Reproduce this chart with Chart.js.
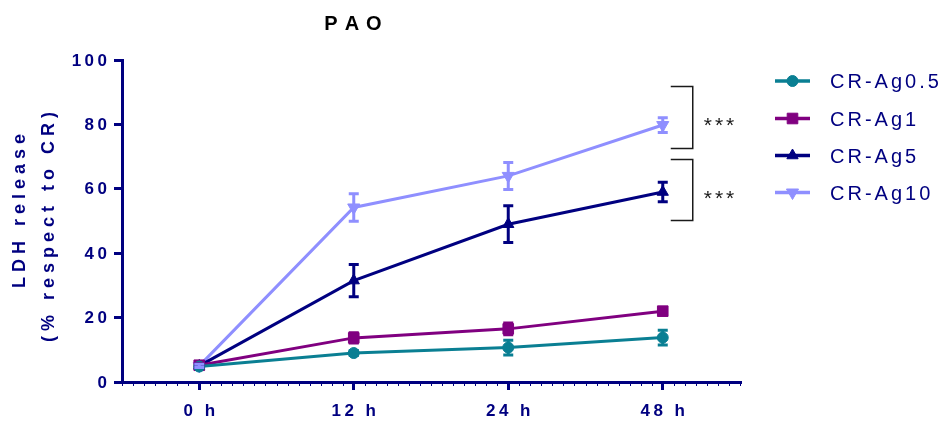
<!DOCTYPE html>
<html>
<head>
<meta charset="utf-8">
<script src="https://cdn.jsdelivr.net/npm/chart.js@4/dist/chart.umd.min.js"></script>
<style>
  html, body { margin: 0; padding: 0; background: #ffffff; }
  #wrap { width: 946px; height: 421px; }
</style>
</head>
<body>
<div id="wrap"><canvas id="c" width="946" height="421"></canvas></div>
<script>
// LDH release over time for each CR-Ag formulation (mean ± error)
const categories = ['0 h', '12 h', '24 h', '48 h'];
const seriesNames = ['CR-Ag0.5', 'CR-Ag1', 'CR-Ag5', 'CR-Ag10'];

const ag05Values = [4.8, 9.0, 10.7, 13.8];
const ag05Errors = [0.5, 0.8, 2.3, 2.3];
const ag1Values  = [5.2, 13.7, 16.5, 22.0];
const ag1Errors  = [0.5, 1.6, 1.8, 0.8];
const ag5Values  = [5.0, 31.5, 49.0, 59.0];
const ag5Errors  = [0.5, 5.0, 5.7, 3.0];
const ag10Values = [5.0, 54.2, 64.0, 79.8];
const ag10Errors = [0.5, 4.3, 4.2, 2.3];

const yTickValues = [0, 20, 40, 60, 80, 100];

// significance brackets at 48 h: [upper, lower] in axis units
const bracketSpans = [[91.9, 72.8], [69.3, 50.3]];
const bracketLabels = ['***', '***'];

const NAVY = '#000080';
const FONT = '"Liberation Sans", Arial, sans-serif';

const seriesStyles = [
  { color: '#0A7F93', pointStyle: 'circle',   radius: 5.5, rotation: 0 },
  { color: '#800080', pointStyle: 'rect',     radius: 7.5, rotation: 0 },
  { color: '#000080', pointStyle: 'triangle', radius: 6.5, rotation: 0 },
  { color: '#8F8FFF', pointStyle: 'triangle', radius: 7,   rotation: 180 }
];

const valueSets = [ag05Values, ag1Values, ag5Values, ag10Values];
const errorSets = [ag05Errors, ag1Errors, ag5Errors, ag10Errors];

const datasets = seriesNames.map((name, i) => ({
  label: name,
  data: valueSets[i],
  errors: errorSets[i],
  borderColor: seriesStyles[i].color,
  backgroundColor: seriesStyles[i].color,
  pointBackgroundColor: seriesStyles[i].color,
  pointBorderColor: seriesStyles[i].color,
  pointStyle: seriesStyles[i].pointStyle,
  pointRadius: seriesStyles[i].radius,
  pointRotation: seriesStyles[i].rotation,
  pointBorderWidth: 1,
  borderWidth: 3,
  tension: 0,
  fill: false,
  clip: false
}));

// draw text with extra spacing between characters
function spacedWidth(ctx, text, spacing) {
  let w = 0;
  for (const ch of text) w += ctx.measureText(ch).width + spacing;
  return w - spacing;
}
function drawSpaced(ctx, text, x, y, spacing, align) {
  const w = spacedWidth(ctx, text, spacing);
  let cx = x;
  if (align === 'center') cx = x - w / 2;
  else if (align === 'right') cx = x - w;
  const saved = ctx.textAlign;
  ctx.textAlign = 'left';
  for (const ch of text) {
    ctx.fillText(ch, cx, y);
    cx += ctx.measureText(ch).width + spacing;
  }
  ctx.textAlign = saved;
}

const errorBarPlugin = {
  id: 'errorBars',
  afterDatasetsDraw(chart) {
    const ctx = chart.ctx;
    const ys = chart.scales.y;
    chart.data.datasets.forEach((ds, di) => {
      const meta = chart.getDatasetMeta(di);
      ctx.save();
      ctx.strokeStyle = ds.borderColor;
      ctx.lineWidth = 3;
      meta.data.forEach((pt, j) => {
        const v = ds.data[j], e = ds.errors[j];
        if (!e) return;
        const top = ys.getPixelForValue(v + e);
        const bot = ys.getPixelForValue(v - e);
        const x = pt.x;
        ctx.beginPath();
        ctx.moveTo(x, top); ctx.lineTo(x, bot);
        ctx.moveTo(x - 5, top); ctx.lineTo(x + 5, top);
        ctx.moveTo(x - 5, bot); ctx.lineTo(x + 5, bot);
        ctx.stroke();
      });
      ctx.restore();
    });
  }
};

const decorPlugin = {
  id: 'decor',
  afterDraw(chart) {
    const ctx = chart.ctx;
    const xs = chart.scales.x, ys = chart.scales.y;
    const area = chart.chartArea;
    ctx.save();

    // minor ticks under the x axis
    ctx.strokeStyle = NAVY;
    ctx.lineWidth = 1;
    const perCat = 14;
    const nMinor = categories.length * perCat;
    const step = (area.right - area.left) / nMinor;
    ctx.beginPath();
    for (let k = 0; k <= nMinor; k++) {
      const x = Math.round(area.left + k * step) + 0.5;
      ctx.moveTo(x, area.bottom);
      ctx.lineTo(x, area.bottom + 4);
    }
    ctx.stroke();

    // y tick labels
    ctx.fillStyle = NAVY;
    ctx.font = 'bold 17px ' + FONT;
    ctx.textBaseline = 'middle';
    yTickValues.forEach(v => {
      drawSpaced(ctx, String(v), area.left - 15, ys.getPixelForValue(v) + 1, 3.5, 'right');
    });

    // x tick labels
    categories.forEach((c, i) => {
      drawSpaced(ctx, c, xs.getPixelForValue(i), area.bottom + 29, 3.5, 'center');
    });

    // y axis title (two lines)
    ctx.font = 'bold 18px ' + FONT;
    ctx.save();
    ctx.translate(20, 211);
    ctx.rotate(-Math.PI / 2);
    drawSpaced(ctx, 'LDH release', 0, 0, 5, 'center');
    ctx.restore();
    ctx.save();
    ctx.translate(49, 227);
    ctx.rotate(-Math.PI / 2);
    drawSpaced(ctx, '(% respect to CR)', 0, 0, 5, 'center');
    ctx.restore();

    // chart title
    ctx.fillStyle = '#000000';
    ctx.font = 'bold 20px ' + FONT;
    drawSpaced(ctx, 'PAO', 353, 24, 7, 'center');

    // significance brackets beside the last time point
    const xLast = xs.getPixelForValue(categories.length - 1);
    ctx.strokeStyle = '#1a1a1a';
    ctx.lineWidth = 1.5;
    ctx.fillStyle = '#1a1a1a';
    ctx.font = '21px ' + FONT;
    bracketSpans.forEach((span, i) => {
      const yTop = Math.round(ys.getPixelForValue(span[0])) + 0.5;
      const yBot = Math.round(ys.getPixelForValue(span[1])) + 0.5;
      const x0 = xLast + 8, x1 = xLast + 30;
      ctx.beginPath();
      ctx.moveTo(x0, yTop); ctx.lineTo(x1, yTop);
      ctx.lineTo(x1, yBot); ctx.lineTo(x0, yBot);
      ctx.stroke();
      ctx.textBaseline = 'middle';
      drawSpaced(ctx, bracketLabels[i], x1 + 11, (yTop + yBot) / 2 + 9, 3, 'left');
    });

    // legend
    const legendX0 = 775, legendX1 = 810, textX = 830;
    const rowY = [81, 118.5, 155.5, 192.5];
    chart.data.datasets.forEach((ds, i) => {
      const y = rowY[i];
      ctx.strokeStyle = ds.borderColor;
      ctx.lineWidth = 3.5;
      ctx.beginPath();
      ctx.moveTo(legendX0, y); ctx.lineTo(legendX1, y);
      ctx.stroke();
      ctx.fillStyle = ds.borderColor;
      ctx.lineWidth = 1;
      Chart.helpers.drawPoint(ctx, {
        pointStyle: ds.pointStyle,
        radius: ds.pointRadius,
        rotation: ds.pointRotation,
        borderWidth: 1
      }, (legendX0 + legendX1) / 2, y);
      ctx.fillStyle = NAVY;
      ctx.font = '20px ' + FONT;
      ctx.textBaseline = 'middle';
      drawSpaced(ctx, ds.label, textX, y + 1.5, 3, 'left');
    });

    ctx.restore();
  }
};

new Chart(document.getElementById('c'), {
  type: 'line',
  data: { labels: categories, datasets: datasets },
  options: {
    responsive: false,
    devicePixelRatio: 1,
    animation: false,
    layout: { padding: { top: 60, right: 206, left: 0, bottom: 0 } },
    plugins: {
      legend: { display: false },
      title: { display: false },
      tooltip: { enabled: false }
    },
    scales: {
      x: {
        type: 'category',
        offset: true,
        grid: {
          offset: false,
          drawOnChartArea: false,
          drawTicks: true,
          tickLength: 8,
          color: NAVY,
          lineWidth: 3
        },
        border: { color: NAVY, width: 3 },
        ticks: { display: false },
        afterFit(scale) { scale.height = 39; }
      },
      y: {
        min: 0,
        max: 100,
        afterBuildTicks(scale) { scale.ticks = yTickValues.map(v => ({ value: v })); },
        grid: {
          drawOnChartArea: false,
          drawTicks: true,
          tickLength: 8,
          color: NAVY,
          lineWidth: 3
        },
        border: { color: NAVY, width: 3 },
        ticks: { display: false },
        afterFit(scale) { scale.width = 122; }
      }
    }
  },
  plugins: [errorBarPlugin, decorPlugin]
});
</script>
</body>
</html>
